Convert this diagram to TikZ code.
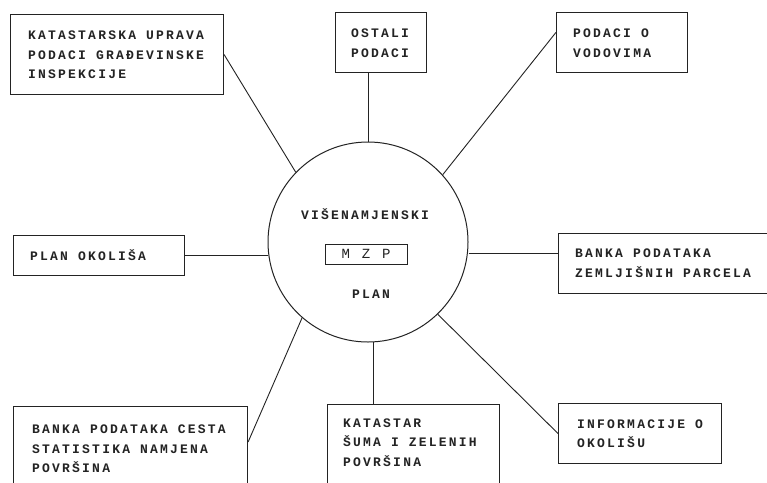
\documentclass[tikz,border=0pt]{standalone}
\usepackage{fontspec}
\usetikzlibrary{calc}
\newfontfamily\dm{Liberation Mono}[LetterSpace=17]
\newfontfamily\dmw{Liberation Mono}[LetterSpace=25]
\newcommand{\tst}{\rule{0pt}{12.5pt}}
\newcommand{\bst}{\rule[-3.9pt]{0pt}{3.9pt}}
\definecolor{ink}{RGB}{35,35,35}
\begin{document}
\begin{tikzpicture}[x=1pt,y=-1pt,
  box/.style={draw=ink,line width=1.1pt,rectangle,inner sep=0pt,anchor=north west},
  txt/.style={inner sep=0pt,anchor=west,align=left,text=ink,font=\dm\bfseries\fontsize{13}{19.5}\selectfont},
  ctxt/.style={inner sep=0pt,anchor=center,align=center,text=ink,font=\dm\bfseries\fontsize{13}{19.5}\selectfont},
  conn/.style={draw=ink,line width=0.9pt}]
\useasboundingbox (0,0) rectangle (767,482);
\clip (0,0) rectangle (767,482);
\fill[white] (0,0) rectangle (767,482);
% central circle
\node[draw=ink,line width=1pt,circle,minimum size=200pt,inner sep=0pt] (c) at (368,242) {};
\node[ctxt] (cv) at (365,215) {\tst VIŠENAMJENSKI\bst};
\node[draw=ink,line width=1pt,rectangle,minimum width=82pt,minimum height=20pt,inner sep=0pt,text=ink,font=\dmw\fontsize{14}{16}\selectfont] (mzp) at (366,254) {M Z P};
\node[ctxt] (cp) at (371,294) {\tst PLAN\bst};
% boxes
\node[box,minimum width=213pt,minimum height=80pt] (b1) at (10,14) {};
\node[txt] (t1) at (28,55) {\tst KATASTARSKA UPRAVA\\PODACI GRAĐEVINSKE\\INSPEKCIJE\bst};
\node[box,minimum width=91pt,minimum height=60pt] (b2) at (335,12) {};
\node[txt] (t2) at (351,43) {\tst OSTALI\\PODACI\bst};
\node[box,minimum width=131pt,minimum height=60pt] (b3) at (556,12) {};
\node[txt] (t3) at (573,43) {\tst PODACI O\\VODOVIMA\bst};
\node[box,minimum width=171pt,minimum height=40pt] (b4) at (13,235) {};
\node[txt] (t4) at (30,256) {\tst PLAN OKOLIŠA\bst};
\node[box,minimum width=220pt,minimum height=60pt] (b5) at (558,233) {};
\node[txt] (t5) at (575,263) {\tst BANKA PODATAKA\\ZEMLJIŠNIH PARCELA\bst};
\node[box,minimum width=234pt,minimum height=100pt] (b6) at (13,406) {};
\node[txt] (t6) at (32,449) {\tst BANKA PODATAKA CESTA\\STATISTIKA NAMJENA\\POVRŠINA\bst};
\node[box,minimum width=172pt,minimum height=100pt] (b7) at (327,404) {};
\node[txt] (t7) at (343,442.5) {\tst KATASTAR\\ŠUMA I ZELENIH\\POVRŠINA\bst};
\node[box,minimum width=163pt,minimum height=60pt] (b8) at (558,403) {};
\node[txt] (t8) at (577,433.5) {\tst INFORMACIJE O\\OKOLIŠU\bst};
% connectors
\coordinate (p3) at ($(b3.north west)!0.333!(b3.south west)$);
\coordinate (p5) at ($(b5.north west)!0.333!(b5.south west)$);
\coordinate (p6) at ($(b6.north east)+(0,36)$);
\draw[conn] (b1.east) -- (c.136);
\draw[conn] (c.north) -- (c.north |- b2.south);
\draw[conn] (c.42) -- (p3);
\draw[conn] (b4.east) -- (b4.east -| c.west);
\draw[conn] (p5 -| c.east) -- (p5);
\draw[conn] (c.229) -- (p6);
\draw[conn] (c.-87) -- (c.-87 |- b7.north);
\draw[conn] (c.-46) -- (b8.west);
\end{tikzpicture}
\end{document}
